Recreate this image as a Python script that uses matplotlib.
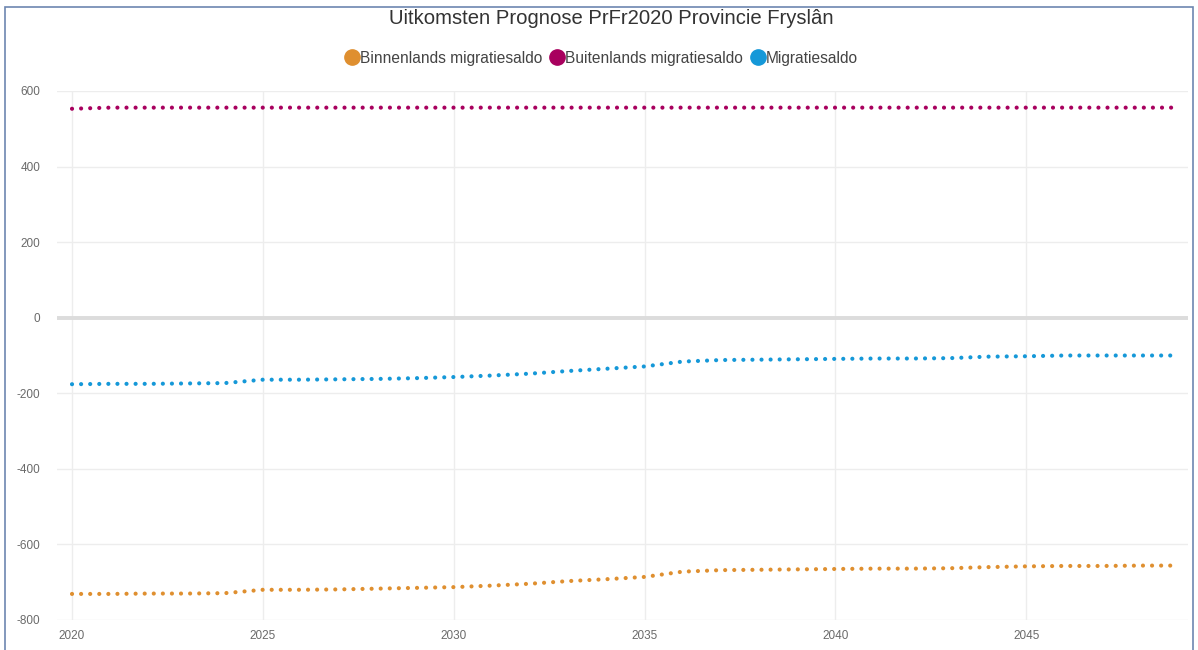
import matplotlib
matplotlib.use("Agg")
import matplotlib.pyplot as plt
from matplotlib.lines import Line2D
from matplotlib.patches import Rectangle

plt.rcParams['font.family'] = ['Liberation Sans', 'DejaVu Sans']

years = list(range(2020, 2050))
binnenlands = [-731, -731, -730, -730, -729, -720, -720, -719, -717, -715,
               -713, -709, -704, -697, -692, -686, -672, -668, -667, -666,
               -665, -664, -664, -663, -660, -658, -657, -657, -656, -656]
buitenlands = [553] + [556] * 29
migratie = [-176, -175, -175, -174, -173, -164, -164, -163, -162, -160,
            -157, -153, -148, -141, -135, -129, -116, -112, -111, -110,
            -109, -108, -108, -107, -103, -102, -100, -100, -100, -100]

series_names = ["Binnenlands migratiesaldo", "Buitenlands migratiesaldo", "Migratiesaldo"]
colors = ["#df8f2f", "#a8005e", "#1598d8"]
title = "Uitkomsten Prognose PrFr2020 Provincie Fryslân"
xticks = [2020, 2025, 2030, 2035, 2040, 2045]
yticks = [-800, -600, -400, -200, 0, 200, 400, 600]

W, H = 1198, 650
fig = plt.figure(figsize=(W / 100, H / 100), dpi=100)
fig.patch.set_facecolor("white")

left, right, top, bottom = 57, 1188, 91, 620
ax = fig.add_axes([left / W, (H - bottom) / H, (right - left) / W, (bottom - top) / H])

for vals, c in zip([binnenlands, buitenlands, migratie], colors):
    ax.plot(years, vals, color=c, linewidth=3.0, linestyle=(0, (0.01, 2.17)),
            dash_capstyle="round", solid_capstyle="round", zorder=3)

px_per_year = (1179 - 72) / 29
ax.set_xlim(2020 - (72 - left) / px_per_year, 2049 + (right - 1179) / px_per_year)
ax.set_ylim(-800, 600)
ax.set_xticks(xticks)
ax.set_yticks(yticks)
ax.set_xticklabels([str(t) for t in xticks])
ax.set_yticklabels([str(t) for t in yticks])
ax.tick_params(axis="both", length=0, labelsize=8.5, labelcolor="#6a6a6a")
ax.tick_params(axis="y", pad=12)
ax.tick_params(axis="x", pad=7)
for s in ax.spines.values():
    s.set_visible(False)
ax.grid(True, color="#ededed", linewidth=1.0, zorder=0)
ax.set_axisbelow(True)
ax.axhline(0, color="#dcdcdc", linewidth=2.8, zorder=1)

fig.text(611 / W, 1 - 19 / H, title, ha="center", va="center", fontsize=14.6, color="#333333")

handles = [Line2D([], [], linestyle="none", marker="o", markersize=11,
                  markerfacecolor=c, markeredgecolor=c) for c in colors]
fig.legend(handles, series_names, loc="center", bbox_to_anchor=(601 / W, 1 - 58 / H),
           ncol=3, frameon=False, fontsize=11.2, labelcolor="#444444",
           handletextpad=0.0, columnspacing=0.45, handlelength=1.0)

fig.add_artist(Rectangle((5 / W, -0.01), (1193 - 5) / W, 1 - 7 / H + 0.01,
                         transform=fig.transFigure, fill=False,
                         edgecolor="#6d86b0", linewidth=1.2))

fig.savefig("out.png", dpi=100)
